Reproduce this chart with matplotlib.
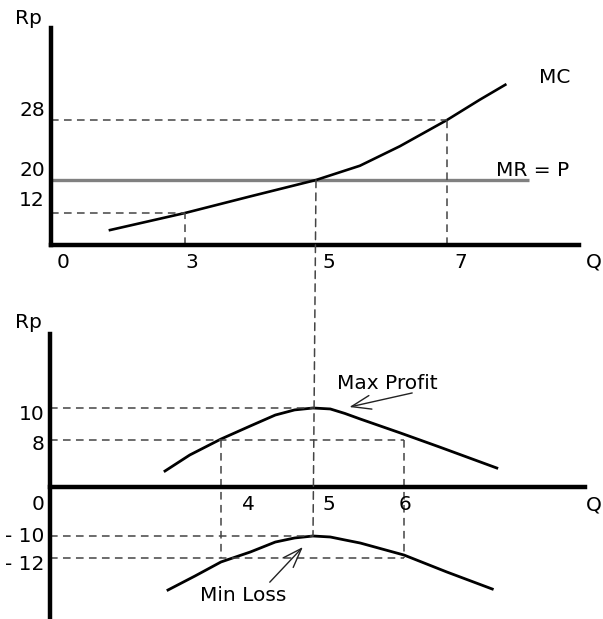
import numpy as np
import matplotlib
matplotlib.use('Agg')
import matplotlib.pyplot as plt
from matplotlib.patches import ConnectionPatch

#%% Data

# top panel: marginal cost and price
q_mc = [1.32, 3.0, 3.99, 5.0, 5.67, 6.28, 7.0, 7.5, 7.89]
mc = [5.6, 12.0, 16.0, 20.0, 21.9, 24.5, 28.0, 30.7, 32.7]
q_mr = [0, 8.25]
mr = [20, 20]
top_x_ticks = [0, 3, 5, 7]
top_y_ticks = [28, 20, 12]

# bottom panel: profit and loss
q_profit = [2.69, 3.27, 4.0, 4.32, 4.59, 4.8, 5.0, 5.19, 5.35, 5.52, 5.96, 6.39, 7.02]
profit = [2.72, 5.45, 8.06, 8.88, 9.56, 9.88, 10.0, 9.94, 9.66, 9.31, 8.44, 6.81, 3.23]
q_loss = [2.76, 3.39, 4.0, 4.32, 4.59, 4.8, 5.0, 5.19, 5.35, 5.52, 6.0, 6.47, 6.97]
loss = [-14.91, -13.64, -12.36, -11.45, -10.55, -10.18, -10.0, -10.09, -10.36, -10.64,
        -11.73, -13.27, -14.82]
bot_x_ticks = [4, 5, 6]
bot_y_ticks = [10, 8, 0, -10, -12]
bot_y_labels = ['10', '8', '0', '- 10', '- 12']

FS = 14.5
DASH = dict(ls=(0, (5, 3.5)), color='#444444', lw=1.1, clip_on=False)


def interp_scale(vals, px):
    """Piecewise linear scale (the sketch is not drawn to a uniform scale)"""
    vals = np.asarray(vals, float)
    px = np.asarray(px, float)

    def extrap(v, a, b):
        v = np.asarray(v, float)
        out = np.interp(v, a, b)
        lo_s = (b[1] - b[0]) / (a[1] - a[0])
        hi_s = (b[-1] - b[-2]) / (a[-1] - a[-2])
        out = np.where(v < a[0], b[0] + (v - a[0]) * lo_s, out)
        out = np.where(v > a[-1], b[-1] + (v - a[-1]) * hi_s, out)
        return out

    return (lambda v: extrap(v, vals, px)), (lambda p: extrap(p, px, vals))


def label(ax, text, xy, dx, dy, coords='data', **kw):
    ax.annotate(text, xy=xy, xycoords=coords, xytext=(dx, dy),
                textcoords='offset pixels', ha='center', va='center',
                fontsize=FS, annotation_clip=False, **kw)


fig = plt.figure(figsize=(6.03, 6.19), dpi=100)

#%% Top panel

ax1 = fig.add_axes([51 / 603, 1 - 245 / 619, 528 / 603, 217 / 619])
fx, ix = interp_scale([0, 3, 5, 7], [0, 134, 265, 396])
fy, iy = interp_scale([0, 12, 20, 28], [0, 32, 65, 125])
ax1.set_xscale('function', functions=(fx, ix))
ax1.set_yscale('function', functions=(fy, iy))
ax1.set_xlim(0, float(ix(528)))
ax1.set_ylim(0, float(iy(217)))

ax1.plot(q_mr, mr, color='#808080', lw=2.4, solid_capstyle='butt')
ax1.plot(q_mc, mc, color='black', lw=1.9)

# guide lines
ax1.plot([0, 7], [28, 28], **DASH)
ax1.plot([7, 7], [0, 28], **DASH)
ax1.plot([0, 3], [12, 12], **DASH)
ax1.plot([3, 3], [0, 12], **DASH)

for sp in ['top', 'right']:
    ax1.spines[sp].set_visible(False)
for sp in ['left', 'bottom']:
    ax1.spines[sp].set_linewidth(3.2)
ax1.set_xticks([])
ax1.set_yticks([])

label(ax1, 'Rp', (0, 1), -23, 9, coords='axes fraction')
for val, dy in zip(top_y_ticks, [10, 10, 13]):
    label(ax1, str(val), (0, val), -19, dy)
for q, dx in zip(top_x_ticks, [12, 7, 13, 14]):
    label(ax1, str(q), (q, 0), dx, -17)
label(ax1, 'Q', (1, 0), 15, -17, coords='axes fraction')
label(ax1, 'MC', (q_mc[-1], mc[-1]), 49, 7)
label(ax1, 'MR = P', (q_mr[-1], mr[-1]), 4, 10)

#%% Bottom panel

ax2 = fig.add_axes([50 / 603, 0, 535 / 603, 285 / 619])
gx, jx = interp_scale([0, 4, 5, 6], [0, 171, 263, 354])
gy, jy = interp_scale([-12, -10, 0, 8, 10], [-71, -49, 0, 47, 79])
ax2.set_xscale('function', functions=(gx, jx))
ax2.set_yscale('function', functions=(gy, jy))
ax2.set_xlim(0, float(jx(535)))
ax2.set_ylim(float(jy(-132)), float(jy(153)))

ax2.plot(q_profit, profit, color='black', lw=2.0)
ax2.plot(q_loss, loss, color='black', lw=2.0)

ax2.plot([0, 5], [10, 10], **DASH)
ax2.plot([0, 6], [8, 8], **DASH)
ax2.plot([0, 5], [-10, -10], **DASH)
ax2.plot([0, 6], [-12, -12], **DASH)
ax2.plot([4, 4], [8, -12], **DASH)
ax2.plot([6, 6], [8, -12], **DASH)

for sp in ['top', 'right']:
    ax2.spines[sp].set_visible(False)
ax2.spines['bottom'].set_position(('data', 0))
for sp in ['left', 'bottom']:
    ax2.spines[sp].set_linewidth(3.2)
ax2.set_xticks([])
ax2.set_yticks([])

label(ax2, 'Rp', (0, 1), -22, 11, coords='axes fraction')
for val, text, dx, dy in zip(bot_y_ticks, bot_y_labels,
                             [-18, -12, -12, -25, -25], [-6, -5, -18, 0, -7]):
    label(ax2, text, (0, val), dx, dy)
for q, dx in zip(bot_x_ticks, [27, 16, 1]):
    label(ax2, str(q), (q, 0), dx, -18)
ax2.annotate('Q', xy=(1, 0), xycoords=('axes fraction', 'data'), xytext=(9, -18),
             textcoords='offset pixels', ha='center', va='center', fontsize=FS,
             annotation_clip=False)

# arrows to the max profit / min loss points
arrow = dict(arrowstyle='->,head_length=1.4,head_width=0.5', color='#222222', lw=1.0,
             shrinkA=0, shrinkB=0)
ax2.annotate('', xy=(5.4, 10.06), xytext=(6.09, 10.94), arrowprops=arrow,
             annotation_clip=False)
label(ax2, 'Max Profit', (6.09, 10.94), -25, 9)
ax2.annotate('', xy=(4.89, -11.0), xytext=(4.53, -14.2), arrowprops=arrow,
             annotation_clip=False)
label(ax2, 'Min Loss', (4.53, -14.2), -27, -13)

# Q = 5 guide running through both panels
con = ConnectionPatch(xyA=(5, 20), coordsA=ax1.transData,
                      xyB=(5, -10), coordsB=ax2.transData,
                      ls=(0, (5, 3.5)), color='#444444', lw=1.1)
fig.add_artist(con)

fig.savefig('out.png', dpi=100)
